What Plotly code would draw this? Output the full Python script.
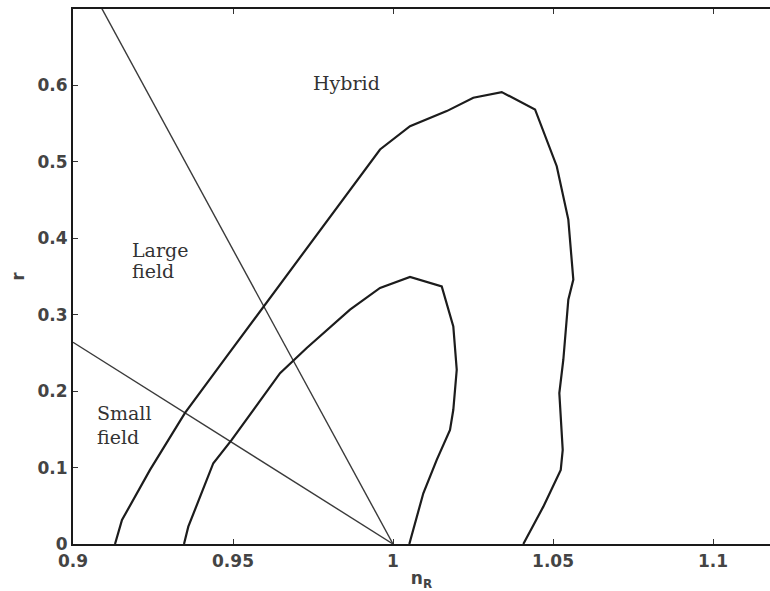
import plotly.graph_objects as go

# Outer confidence contour in the (n_R, r) plane
outer_n = [0.91313, 0.91531, 0.92406, 0.9350, 0.94803, 0.9600, 0.9750, 0.99594,
           1.00531, 1.01678, 1.02509, 1.03397, 1.04438, 1.05116, 1.05478, 1.05634,
           1.05478, 1.05322, 1.05197, 1.05303, 1.05241, 1.04697, 1.04072]
outer_r = [0.0, 0.0314, 0.0970, 0.1716, 0.2454, 0.3131, 0.3983, 0.5162,
           0.5467, 0.5664, 0.5839, 0.5913, 0.5686, 0.4943, 0.4245, 0.3459,
           0.3197, 0.2411, 0.1974, 0.1231, 0.0969, 0.0489, 0.0]

# Inner confidence contour
inner_n = [0.93469, 0.93603, 0.94384, 0.94959, 0.96469, 0.97303, 0.98656, 0.99594,
           1.00531, 1.01522, 1.01884, 1.01991, 1.01884, 1.01781, 1.01366, 1.00947,
           1.00509]
inner_r = [0.0, 0.0227, 0.1057, 0.1363, 0.2236, 0.2564, 0.3066, 0.3350,
           0.3494, 0.3371, 0.2847, 0.2280, 0.1756, 0.1494, 0.1100, 0.0664,
           0.0]

# Boundaries between model classes, meeting at n_R = 1, r = 0
large_n = [0.9, 1.0]
large_r = [0.77, 0.0]
small_n = [0.9, 1.0]
small_r = [0.264, 0.0]

x_ticks = [0.9, 0.95, 1.0, 1.05, 1.1]
x_tick_text = ["0.9", "0.95", "1", "1.05", "1.1"]
y_ticks = [0, 0.1, 0.2, 0.3, 0.4, 0.5, 0.6]
y_tick_text = ["0", "0.1", "0.2", "0.3", "0.4", "0.5", "0.6"]

# Region labels, one entry per text line
label_text = ["Hybrid", "Large", "field", "Small", "field"]
label_n = [0.98553, 0.91781, 0.91781, 0.90688, 0.90688]
label_r = [0.6026, 0.3852, 0.3577, 0.1710, 0.1402]
label_anchor = ["center", "left", "left", "left", "left"]

fig = go.Figure()

for xs, ys in [(large_n, large_r), (small_n, small_r)]:
    fig.add_trace(go.Scatter(x=xs, y=ys, mode="lines",
                             line=dict(color="#3a3a3a", width=1.4),
                             showlegend=False, hoverinfo="skip"))

for xs, ys in [(outer_n, outer_r), (inner_n, inner_r)]:
    fig.add_trace(go.Scatter(x=xs, y=ys, mode="lines",
                             line=dict(color="#1c1c1c", width=2.2),
                             showlegend=False, hoverinfo="skip"))

for t, xn, yr, anc in zip(label_text, label_n, label_r, label_anchor):
    fig.add_annotation(x=xn, y=yr, text=t, showarrow=False,
                       xanchor=anc, yanchor="middle",
                       font=dict(family="DejaVu Serif", size=19, color="#333"))

tick_font = dict(family="DejaVu Sans", size=17, color="#444", weight="bold")

fig.update_layout(
    width=770, height=591,
    margin=dict(l=73, r=0, t=9, b=47),
    paper_bgcolor="white", plot_bgcolor="white",
    showlegend=False,
    xaxis=dict(range=[0.9, 1.1178], tickvals=x_ticks, ticktext=x_tick_text,
               ticks="inside", ticklen=5, tickcolor="#333", tickwidth=1.2,
               showline=True, linecolor="#1a1a1a", linewidth=2.2,
               mirror="ticks", showgrid=False, zeroline=False,
               tickfont=tick_font,
               title=dict(text="n<sub>R</sub>", font=tick_font, standoff=6)),
    yaxis=dict(range=[0, 0.7], tickvals=y_ticks, ticktext=y_tick_text,
               ticks="inside", ticklen=5, tickcolor="#333", tickwidth=1.2,
               showline=True, linecolor="#1a1a1a", linewidth=2.2,
               mirror=False, showgrid=False, zeroline=False,
               tickfont=tick_font,
               title=dict(text="r", font=tick_font, standoff=8)),
)

fig.write_html("out.html")
